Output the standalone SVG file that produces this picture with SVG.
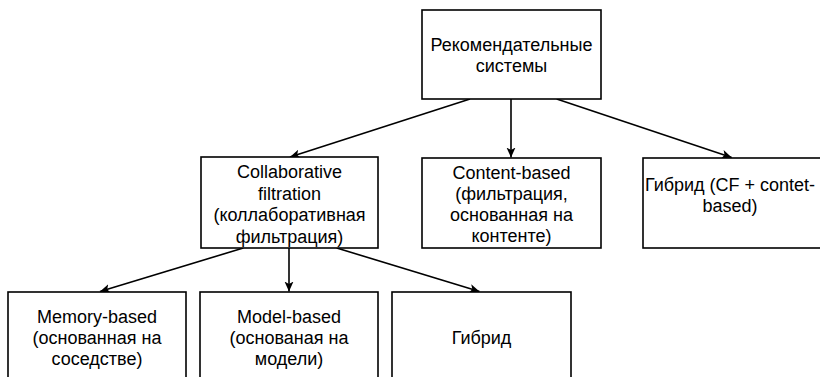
<svg xmlns="http://www.w3.org/2000/svg" width="820" height="377" viewBox="0 0 820 377">
<style>
.box{fill:#ffffff;stroke:#000000;stroke-width:1.6}
.lbl{font-family:"Liberation Sans",Arial,sans-serif;font-size:18px;fill:#000000;text-anchor:middle;dominant-baseline:central}
.edge{fill:none;stroke:#000000;stroke-width:1.6;marker-end:url(#arr)}
</style>
<defs>
<marker id="arr" viewBox="0 0 10 10" refX="10" refY="5" markerWidth="10" markerHeight="10" markerUnits="userSpaceOnUse" orient="auto">
<path d="M0,0.5 L10,5 L0,9.5 L2.5,5 Z" fill="#000000"/>
</marker>
</defs>
<rect width="820" height="377" fill="#ffffff"/>
<g id="connectors">
<line class="edge" x1="470" y1="99" x2="290" y2="157"/>
<line class="edge" x1="511" y1="99" x2="511" y2="157.5"/>
<line class="edge" x1="556.7" y1="99" x2="731.7" y2="157.5"/>
<line class="edge" x1="243.3" y1="248" x2="100" y2="291.5"/>
<line class="edge" x1="289" y1="248" x2="289" y2="291.5"/>
<line class="edge" x1="336.7" y1="248" x2="479.5" y2="291.5"/>
</g>
<g id="node-root">
<rect class="box" x="422" y="10" width="179" height="89"/>
<text class="lbl" x="511.5" y="45">Рекомендательные</text>
<text class="lbl" x="511.5" y="66">системы</text>
</g>
<g id="node-cf">
<rect class="box" x="201" y="157" width="177" height="91"/>
<text class="lbl" x="289.5" y="172">Collaborative</text>
<text class="lbl" x="289.5" y="193.5">filtration</text>
<text class="lbl" x="289.5" y="215">(коллаборативная</text>
<text class="lbl" x="289.5" y="236.5">фильтрация)</text>
</g>
<g id="node-content">
<rect class="box" x="422" y="158" width="179" height="90"/>
<text class="lbl" x="511.5" y="173">Content-based</text>
<text class="lbl" x="511.5" y="194">(фильтрация,</text>
<text class="lbl" x="511.5" y="215">основанная на</text>
<text class="lbl" x="511.5" y="236">контенте)</text>
</g>
<g id="node-hybrid-top">
<rect class="box" x="643" y="158" width="180" height="90"/>
<text class="lbl" x="730" y="185">Гибрид (CF + contet-</text>
<text class="lbl" x="730" y="206">based)</text>
</g>
<g id="node-memory">
<rect class="box" x="8" y="292" width="178" height="92"/>
<text class="lbl" x="97" y="317">Memory-based</text>
<text class="lbl" x="97" y="338">(основанная на</text>
<text class="lbl" x="97" y="359">соседстве)</text>
</g>
<g id="node-model">
<rect class="box" x="200" y="292" width="178" height="92"/>
<text class="lbl" x="289" y="317">Model-based</text>
<text class="lbl" x="289" y="338">(основаная на</text>
<text class="lbl" x="289" y="359">модели)</text>
</g>
<g id="node-hybrid-bottom">
<rect class="box" x="392" y="292" width="179" height="92"/>
<text class="lbl" x="481.5" y="338">Гибрид</text>
</g>
</svg>
